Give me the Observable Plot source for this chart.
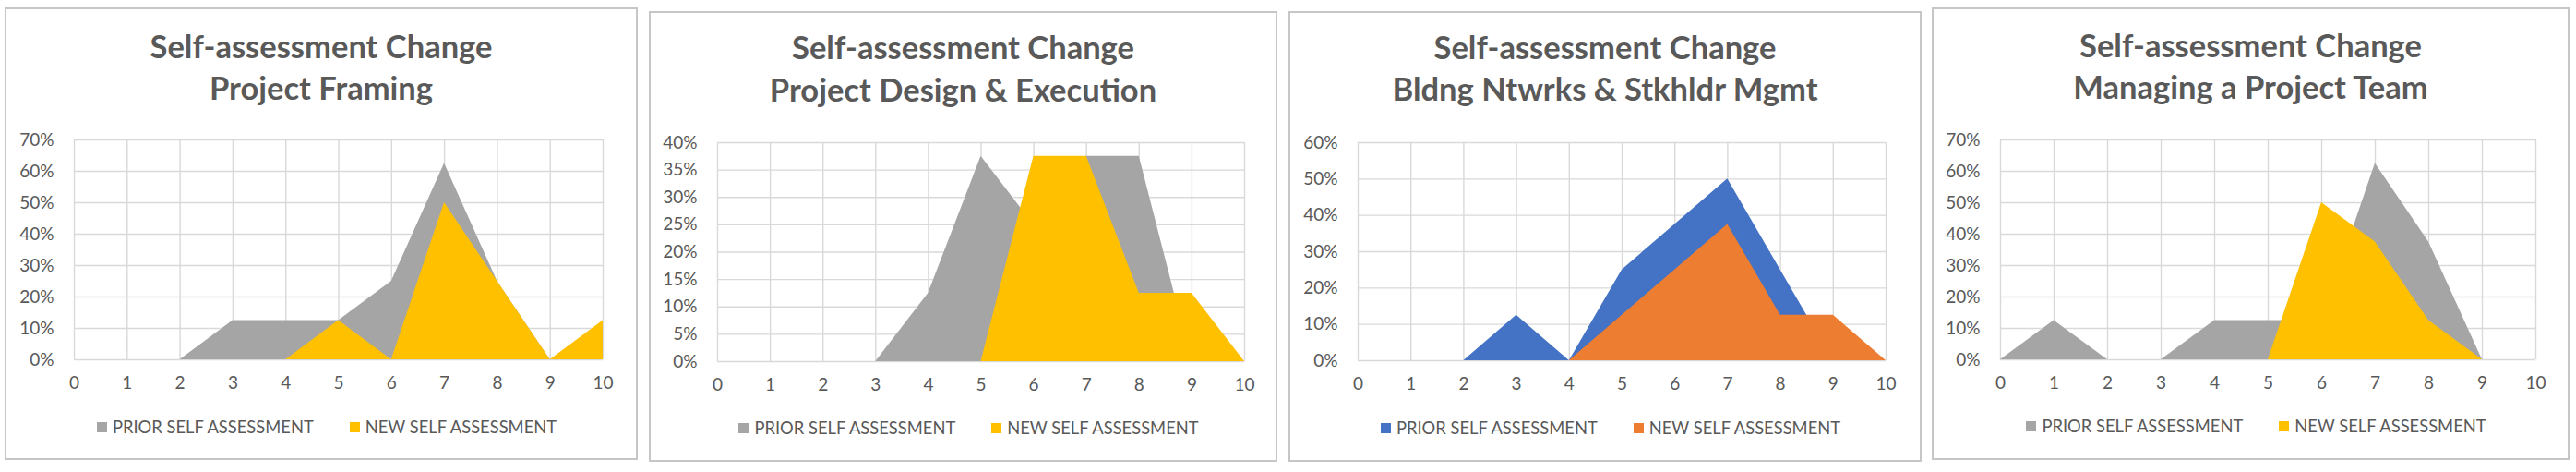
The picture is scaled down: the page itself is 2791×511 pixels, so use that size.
<!DOCTYPE html>
<html>
<head>
<meta charset="utf-8">
<script src="https://cdn.jsdelivr.net/npm/d3@7"></script>
<script src="https://cdn.jsdelivr.net/npm/@observablehq/plot@0.6"></script>
<style>
  html, body { margin: 0; padding: 0; background: #fff; }
  body { width: 2791px; height: 511px; position: relative; overflow: hidden; font-family: Lato, "Open Sans", sans-serif; color: #595959; }
  .panel { position: absolute; box-sizing: border-box; border: 2px solid #c6c6c6; background: #fff; }
  .tline { position: absolute; text-align: center; font-weight: bold; color: #595959; white-space: nowrap; }
  .legend { position: absolute; display: flex; justify-content: center; align-items: center; white-space: nowrap; color: #595959; }
  .legend .item { display: flex; align-items: center; }
  .legend .sw { width: 11px; height: 11px; margin-right: 6px; }
  .chart { position: absolute; }
  .chart svg { overflow: visible; }
</style>
</head>
<body>
<script>
// ---------- data ----------
const SCORES = [0, 1, 2, 3, 4, 5, 6, 7, 8, 9, 10];
const TITLE_TOP = "Self-assessment Change";
const SUBTITLES = ["Project Framing", "Project Design & Execution", "Bldng Ntwrks & Stkhldr Mgmt", "Managing a Project Team"];
const SERIES_NAMES = ["PRIOR SELF ASSESSMENT", "NEW SELF ASSESSMENT"];

const framingPrior  = [0, 0, 0, 0.125, 0.125, 0.125, 0.25, 0.625, 0.25, 0, 0];
const framingNew    = [0, 0, 0, 0, 0, 0.125, 0, 0.5, 0.25, 0, 0.125];
const designPrior   = [0, 0, 0, 0, 0.125, 0.375, 0.25, 0.375, 0.375, 0, 0];
const designNew     = [0, 0, 0, 0, 0, 0, 0.375, 0.375, 0.125, 0.125, 0];
const networksPrior = [0, 0, 0, 0.125, 0, 0.25, 0.375, 0.5, 0.25, 0, 0];
const networksNew   = [0, 0, 0, 0, 0, 0.125, 0.25, 0.375, 0.125, 0.125, 0];
const teamPrior     = [0, 0.125, 0, 0, 0.125, 0.125, 0.125, 0.625, 0.375, 0, 0];
const teamNew       = [0, 0, 0, 0, 0, 0, 0.5, 0.375, 0.125, 0, 0];

const yTicks70 = [0, 0.1, 0.2, 0.3, 0.4, 0.5, 0.6, 0.7];
const yTicks40 = [0, 0.05, 0.1, 0.15, 0.2, 0.25, 0.3, 0.35, 0.4];
const yTicks60 = [0, 0.1, 0.2, 0.3, 0.4, 0.5, 0.6];

const GRAY = "#a5a5a5", GOLD = "#ffc000", BLUE = "#4472c4", ORANGE = "#ed7d31";

// ---------- layout (page pixels) ----------
const panels = [
  { sub: SUBTITLES[0], prior: framingPrior,  next: framingNew,  ticks: yTicks70, colors: [GRAY, GOLD],
    box: [5, 8, 686, 490],    plot: [80, 653, 151, 389],   base: [63, 108], legY: 462 },
  { sub: SUBTITLES[1], prior: designPrior,   next: designNew,   ticks: yTicks40, colors: [GRAY, GOLD],
    box: [703, 12, 681, 488], plot: [777, 1348, 154, 391], base: [64, 110], legY: 463 },
  { sub: SUBTITLES[2], prior: networksPrior, next: networksNew, ticks: yTicks60, colors: [BLUE, ORANGE],
    box: [1396, 12, 686, 488], plot: [1471, 2043, 154, 390], base: [64, 109], legY: 463 },
  { sub: SUBTITLES[3], prior: teamPrior,     next: teamNew,     ticks: yTicks70, colors: [GRAY, GOLD],
    box: [2093, 8, 691, 490], plot: [2167, 2747, 151, 389], base: [62, 107], legY: 461 }
];

// fit font sizes to measured widths of the reference
const ctx = document.createElement("canvas").getContext("2d");
function fit(text, weight, target) {
  ctx.font = `${weight} 100px Lato`;
  return 100 * target / ctx.measureText(text).width;
}
const titleSize = fit(TITLE_TOP, "bold", 371);
const legendSize = fit(SERIES_NAMES[0], "normal", 219);

const ML = 74, MR = 36, MT = 12, MB = 44;

function addDiv(cls, style, html) {
  const d = document.createElement("div");
  d.className = cls;
  Object.assign(d.style, style);
  if (html != null) d.textContent = html;
  document.body.appendChild(d);
  return d;
}

panels.forEach(p => {
  const [bx, by, bw, bh] = p.box;
  addDiv("panel", { left: bx + "px", top: by + "px", width: bw + "px", height: bh + "px" });

  // title lines, positioned by baseline
  [TITLE_TOP, p.sub].forEach((t, i) => {
    const lh = titleSize * 1.2;
    addDiv("tline", {
      left: bx + "px", width: bw + "px",
      top: (p.base[i] - 0.987 * titleSize) + "px",
      fontSize: titleSize + "px", lineHeight: lh + "px"
    }, t);
  });

  // chart
  const [pl, pr, pt, pb] = p.plot;
  const data = SCORES.map((s, i) => ({ score: s, prior: p.prior[i], next: p.next[i] }));
  const yMax = p.ticks[p.ticks.length - 1];
  const svg = Plot.plot({
    width: (pr - pl) + ML + MR,
    height: (pb - pt) + MT + MB,
    marginLeft: ML, marginRight: MR, marginTop: MT, marginBottom: MB,
    style: { fontFamily: "Lato, 'Open Sans', sans-serif", fontSize: "19px", color: "#595959", background: "transparent" },
    x: { domain: [0, 10], label: null },
    y: { domain: [0, yMax], label: null },
    marks: [
      Plot.gridY(p.ticks, { stroke: "#d9d9d9", strokeOpacity: 1, strokeWidth: 1.4 }),
      Plot.gridX(SCORES, { stroke: "#d9d9d9", strokeOpacity: 1, strokeWidth: 1.4 }),
      Plot.areaY(data, { x: "score", y: "prior", fill: p.colors[0] }),
      Plot.areaY(data, { x: "score", y: "next", fill: p.colors[1] }),
      Plot.axisY(p.ticks, { tickSize: 0, tickPadding: 22, tickFormat: d3.format(".0%"), label: null, fill: "#595959" }),
      Plot.axisX(SCORES, { tickSize: 0, tickPadding: 18, tickFormat: d => String(d), label: null, fill: "#595959" })
    ]
  });
  const wrap = addDiv("chart", { left: (pl - ML) + "px", top: (pt - MT) + "px" });
  wrap.appendChild(svg);

  // legend
  const leg = addDiv("legend", { left: (bx + 6) + "px", width: bw + "px", top: (p.legY - 15) + "px", height: "30px", fontSize: legendSize + "px" });
  SERIES_NAMES.forEach((name, i) => {
    const it = document.createElement("div");
    it.className = "item";
    if (i > 0) it.style.marginLeft = "39px";
    const sw = document.createElement("div");
    sw.className = "sw";
    sw.style.background = p.colors[i];
    const tx = document.createElement("span");
    tx.textContent = name;
    it.appendChild(sw); it.appendChild(tx);
    leg.appendChild(it);
  });
});
</script>
</body>
</html>
